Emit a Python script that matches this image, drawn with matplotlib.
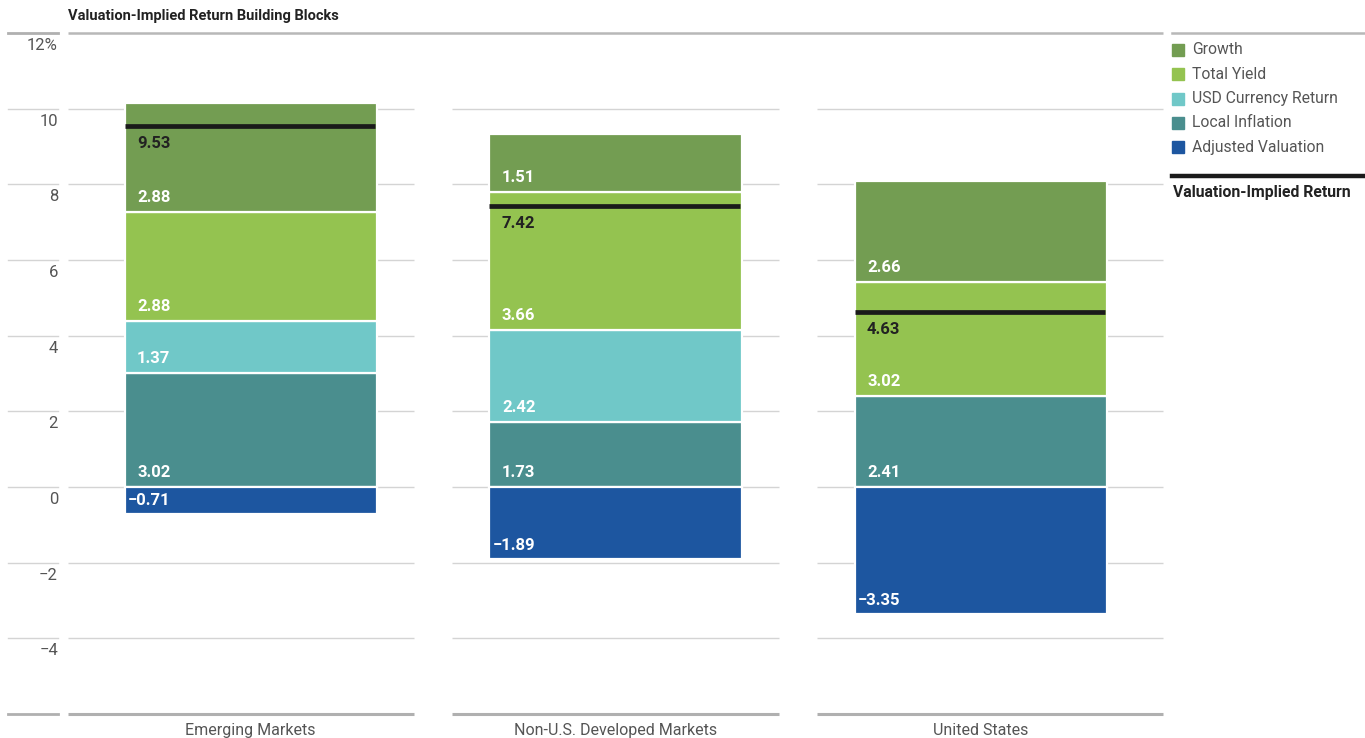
import matplotlib
matplotlib.use('Agg')
import matplotlib.pyplot as plt
from matplotlib.patches import Rectangle
from matplotlib.lines import Line2D
from matplotlib import font_manager

# Dane
kategorie = ['Emerging Markets', 'Non-U.S. Developed Markets', 'United States']
local_inflation = [3.02, 1.73, 2.41]
usd_currency = [1.37, 2.42, 0.0]
total_yield = [2.88, 3.66, 3.02]
growth = [2.88, 1.51, 2.66]
adjusted_valuation = [-0.71, -1.89, -3.35]
implied_return = [9.53, 7.42, 4.63]

y_ticks = [12, 10, 8, 6, 4, 2, 0, -2, -4, -6]
y_tick_labels = ['12%', '10', '8', '6', '4', '2', '0', '\u22122', '\u22124', '']

kolory = {
    'Growth': '#739d52',
    'Total Yield': '#94c350',
    'USD Currency Return': '#70c8c8',
    'Local Inflation': '#4a8e8e',
    'Adjusted Valuation': '#1d56a0',
}

# font - waski jesli jest
nazwy = {f.name for f in font_manager.fontManager.ttflist}
if 'Liberation Sans Narrow' in nazwy:
    czcionka = ['Liberation Sans Narrow', 'DejaVu Sans']
else:
    czcionka = ['Roboto', 'DejaVu Sans']
plt.rcParams['font.family'] = czcionka

W, H = 1365, 738
fig = plt.figure(figsize=(W / 100, H / 100), dpi=100)
ax = fig.add_axes([68 / W, 1 - 714 / H, (1163 - 68) / W, (714 - 33) / H])
ax.set_xlim(0, 3)
ax.set_ylim(-6, 12)
ax.axis('off')

# linie siatki - segmenty na kategorie
gap = 19 / 365
segmenty = [(0, 1 - gap), (1 + gap, 2 - gap), (2 + gap, 3)]
for yv in y_ticks:
    if yv == 12:
        continue
    lw, col = (1.0, '#d4d4d4') if yv != -6 else (2.2, '#b0b0b0')
    for a, b in segmenty:
        ax.plot([a, b], [yv, yv], color=col, lw=lw, solid_capstyle='butt', zorder=0, clip_on=False)
# gorna linia ciagla
ax.plot([0, 3], [12, 12], color='#b8b8b8', lw=1.8, solid_capstyle='butt', zorder=0, clip_on=False)

# kolumna z etykietami osi y
for yv, lab in zip(y_ticks, y_tick_labels):
    yf = 1 - (33 + (12 - yv) * (714 - 33) / 18) / H
    if yv in (12, -6):
        fig.add_artist(Line2D([8 / W, 58 / W], [yf, yf], color='#b0b0b0', lw=2.0))
    else:
        fig.add_artist(Line2D([8 / W, 58 / W], [yf, yf], color='#d4d4d4', lw=1.0))
    if lab:
        fig.text(58 / W, yf - 5 / H, lab, ha='right', va='top', fontsize=12, color='#555555')

x = [0.5, 1.5, 2.5]
szer = 252 / 365

# slupki skumulowane
serie = [('Local Inflation', local_inflation), ('USD Currency Return', usd_currency),
         ('Total Yield', total_yield), ('Growth', growth)]
dol = [0.0, 0.0, 0.0]
for nazwa, wart in serie:
    for i in range(3):
        if wart[i] == 0:
            continue
        ax.bar(x[i], wart[i], szer, bottom=dol[i], color=kolory[nazwa],
               edgecolor='white', linewidth=1.6, zorder=2)
        ax.annotate(f'{wart[i]:.2f}', (x[i] - szer / 2, dol[i]), xytext=(9, 5),
                    textcoords='offset points', ha='left', va='bottom',
                    color='white', fontsize=12, fontweight='bold', zorder=5)
        dol[i] += wart[i]

for i in range(3):
    ax.bar(x[i], adjusted_valuation[i], szer, bottom=0, color=kolory['Adjusted Valuation'],
           edgecolor='white', linewidth=1.6, zorder=2)
    ax.annotate(f'\u2212{abs(adjusted_valuation[i]):.2f}', (x[i] - szer / 2, adjusted_valuation[i]),
                xytext=(2, 4), textcoords='offset points', ha='left', va='bottom',
                color='white', fontsize=12, fontweight='bold', zorder=5)

# linia zwrotu
for i in range(3):
    ax.plot([x[i] - szer / 2, x[i] + szer / 2 - 0.005], [implied_return[i]] * 2,
            color='#1a1a1a', lw=3.4, solid_capstyle='butt', zorder=4)
    ax.annotate(f'{implied_return[i]:.2f}', (x[i] - szer / 2, implied_return[i]), xytext=(9, -7),
                textcoords='offset points', ha='left', va='top',
                color='#222222', fontsize=12, fontweight='bold', zorder=5)

# etykiety kategorii
for i in range(3):
    ax.text(x[i], -6.25, kategorie[i], ha='center', va='top', fontsize=11.5, color='#555555')

# tytul
fig.text(68 / W, 1 - 16 / H, 'Valuation-Implied Return Building Blocks', ha='left', va='center',
         fontsize=10.5, fontweight='bold', color='#222222')

# legenda
fig.add_artist(Line2D([1172 / W, 1], [1 - 33 / H] * 2, color='#b8b8b8', lw=1.8))
leg = ['Growth', 'Total Yield', 'USD Currency Return', 'Local Inflation', 'Adjusted Valuation']
for k, nazwa in enumerate(leg):
    yc = 50 + k * 24.3
    fig.add_artist(Rectangle((1172 / W, 1 - (yc + 6) / H), 12 / W, 12 / H,
                             color=kolory[nazwa], transform=fig.transFigure))
    fig.text(1192 / W, 1 - yc / H, nazwa, ha='left', va='center', fontsize=11.3, color='#555555')
fig.add_artist(Line2D([1172 / W, 1], [1 - 176 / H] * 2, color='#1a1a1a', lw=3.2))
fig.text(1173 / W, 1 - 193 / H, 'Valuation-Implied Return', ha='left', va='center',
         fontsize=11.3, fontweight='bold', color='#222222')

fig.savefig('out.png', dpi=100)
